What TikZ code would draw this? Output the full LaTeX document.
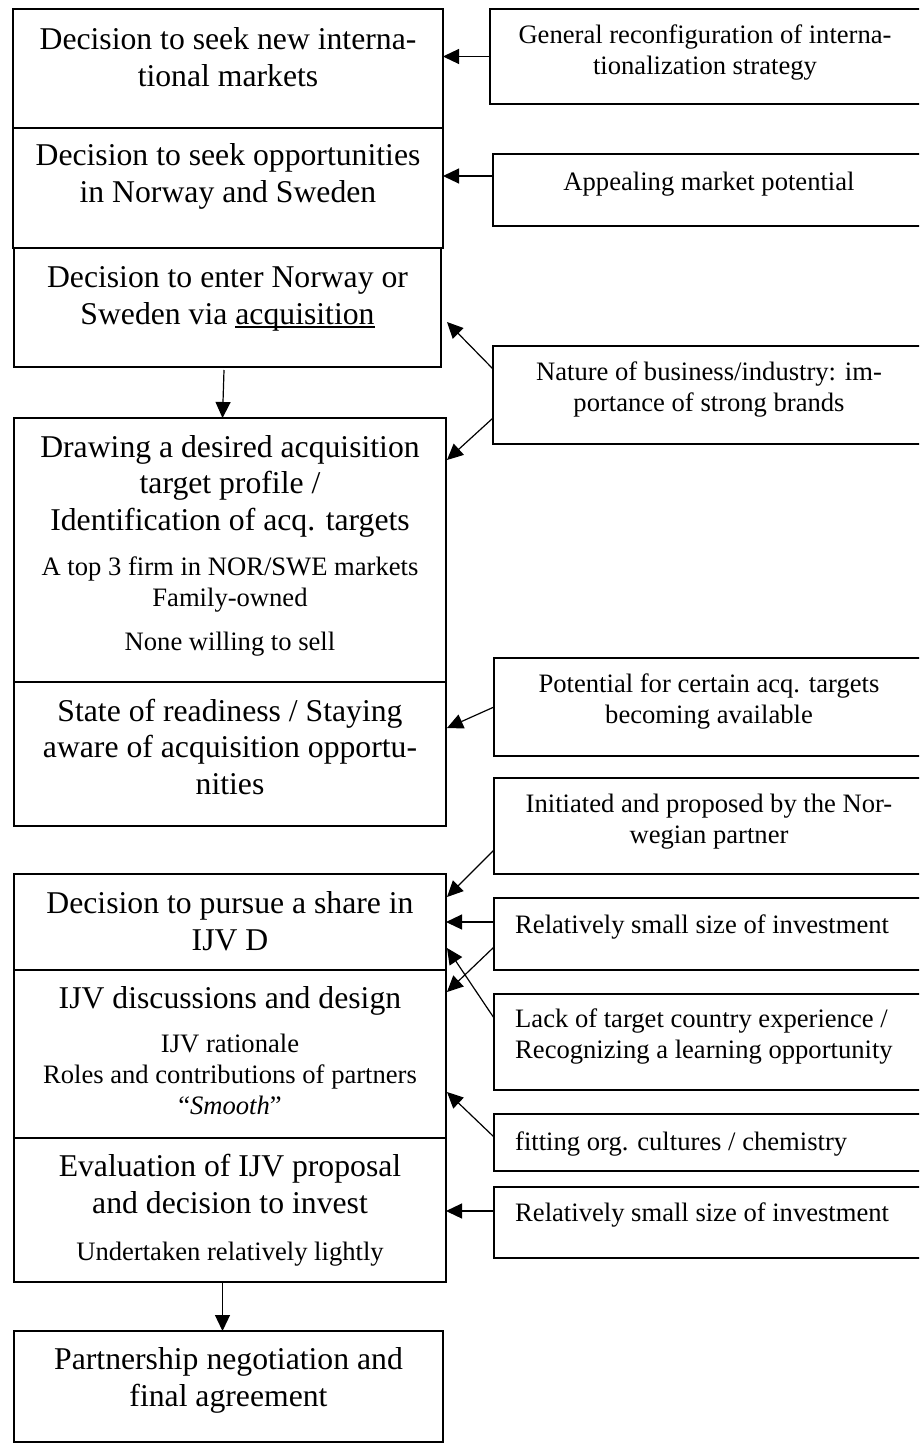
\documentclass[tikz,border=0pt]{standalone}
\usepackage{fontspec}
\setmainfont{Liberation Serif}
\usetikzlibrary{arrows.meta}

% type sizes for the flow boxes and for the notes
\newcommand\flowsize{\fontsize{31.7}{36.5}\selectfont}
\newcommand\notesize{\fontsize{26.6}{31}\selectfont}

% a word with a thin rule set close under its baseline
\newsavebox\ulbox
\newcommand\ulword[1]{\sbox\ulbox{#1}\rlap{\rule[-3.5pt]{\wd\ulbox}{1.3pt}}\usebox\ulbox}

\begin{document}
\begin{tikzpicture}[x=1pt,y=-1pt,
  box/.style={draw, line width=1.3pt, anchor=north west, inner sep=0pt, outer sep=0pt},
  % text nodes are placed by the baseline of their last line
  big/.style={font=\flowsize, align=center, anchor=base, inner sep=0pt},
  small/.style={font=\notesize, align=center, anchor=base, inner sep=0pt},
  smallleft/.style={font=\notesize, align=left, anchor=base west, inner sep=0pt},
  link/.style={line width=1.2pt, -{Triangle[length=16pt,width=15pt]}}]

\path[use as bounding box, clip] (0,0) rectangle (919,1445);

% ---- stages of the decision process (left column)
\node[box, minimum width=430pt, minimum height=119pt] (b1) at (13,9) {};
\node[box, minimum width=430pt, minimum height=120pt] (b2) at (13,128) {};
\node[box, minimum width=427pt, minimum height=119pt] (b3) at (14,248) {};
\node[box, minimum width=432pt, minimum height=264pt] (b4) at (14,418) {};
\node[box, minimum width=432pt, minimum height=144pt] (b5) at (14,682) {};
\node[box, minimum width=432pt, minimum height=96pt]  (b6) at (14,874) {};
\node[box, minimum width=432pt, minimum height=168pt] (b7) at (14,970) {};
\node[box, minimum width=432pt, minimum height=144pt] (b8) at (14,1138) {};
\node[box, minimum width=429pt, minimum height=111pt] (b9) at (14,1331) {};

\node[big] (t1) at (228,86) {Decision to seek new interna-\\tional markets};
\node[big] (t2) at (228,202) {Decision to seek opportunities\\in Norway and Sweden};
\node[big] (t3) at (227.5,324) {Decision to enter Norway or\\Sweden via \ulword{acquisition}};
\node[big] (t4) at (230,530) {Drawing a desired acquisition\\target profile /\\Identification of acq. targets};
\node[small] (t4s) at (230,650) {A top 3 firm in NOR/SWE markets\\Family-owned\\[13pt]None willing to sell};
\node[big] (t5) at (230,794) {State of readiness / Staying\\aware of acquisition opportu-\\nities};
\node[big] (t6) at (230,950) {Decision to pursue a share in\\IJV D};
\node[big] (t7) at (230,1008) {IJV discussions and design};
\node[small] (t7s) at (230,1114) {IJV rationale\\Roles and contributions of partners\\“\textit{Smooth}”};
\node[big] (t8) at (230,1213) {Evaluation of IJV proposal\\and decision to invest};
\node[small] (t8s) at (230,1260) {Undertaken relatively lightly};
\node[big] (t9) at (228.5,1406) {Partnership negotiation and\\final agreement};

% ---- influencing factors (right column, running off the right edge)
\node[box, minimum width=440pt, minimum height=95pt] (r1) at (490,9) {};
\node[box, minimum width=437pt, minimum height=72pt] (r2) at (493,154) {};
\node[box, minimum width=437pt, minimum height=98pt] (r3) at (493,346) {};
\node[box, minimum width=436pt, minimum height=98pt] (r4) at (494,658) {};
\node[box, minimum width=436pt, minimum height=96pt] (r5) at (494,778) {};
\node[box, minimum width=436pt, minimum height=72pt] (r6) at (494,898) {};
\node[box, minimum width=436pt, minimum height=96pt] (r7) at (494,994) {};
\node[box, minimum width=436pt, minimum height=57pt] (r8) at (494,1114) {};
\node[box, minimum width=436pt, minimum height=71pt] (r9) at (494,1187) {};

\node[small] (s1) at (705,74.5) {General reconfiguration of interna-\\tionalization strategy};
\node[small] (s2) at (709,190) {Appealing market potential};
\node[small] (s3) at (709,411) {Nature of business/industry: im-\\portance of strong brands};
\node[small] (s4) at (709,723) {Potential for certain acq. targets\\becoming available};
\node[small] (s5) at (709,843) {Initiated and proposed by the Nor-\\wegian partner};
\node[smallleft] (s6) at (515,933) {Relatively small size of investment};
\node[smallleft] (s7) at (515,1058) {Lack of target country experience /\\Recognizing a learning opportunity};
\node[smallleft] (s8) at (515,1150) {fitting org. cultures / chemistry};
\node[smallleft] (s9) at (515,1221) {Relatively small size of investment};

% ---- flow arrows
\draw[link] ([xshift=-3.5pt,yshift=-3pt]b3.south) -- ([xshift=-7.5pt]b4.north);
\draw[link] ([xshift=-7.5pt]b8.south) -- ([xshift=-7.5pt]b8.south |- b9.north);

% ---- influence arrows
\draw[link] (r1.west) -- (r1.west -| b1.east);
\draw[link] ([yshift=14pt]r2.west) -- ([yshift=14pt]r2.west -| b2.east);
\draw[link] ([yshift=26pt]r3.west) -- ([xshift=6pt,yshift=-14.5pt]b3.east);
\draw[link] ([yshift=-23pt]r3.west) -- ([xshift=1pt,yshift=90pt]b4.east);
\draw[link] (r4.west) -- ([xshift=1pt,yshift=26pt]b5.east);
\draw[link] ([yshift=-24pt]r5.west) -- ([xshift=1pt,yshift=25pt]b6.east);
\draw[link] ([yshift=12pt]r6.west) -- ([yshift=12pt]r6.west -| b6.east);
\draw[link] ([yshift=-13pt]r6.west) -- ([xshift=1pt,yshift=62pt]b7.east);
\draw[link] ([yshift=24pt]r7.west) -- ([xshift=1pt,yshift=-26pt]b6.east);
\draw[link] ([yshift=5.5pt]r8.west) -- ([xshift=1pt,yshift=-38pt]b7.east);
\draw[link] ([yshift=11.5pt]r9.west) -- ([yshift=11.5pt]r9.west -| b8.east);
\end{tikzpicture}
\end{document}
